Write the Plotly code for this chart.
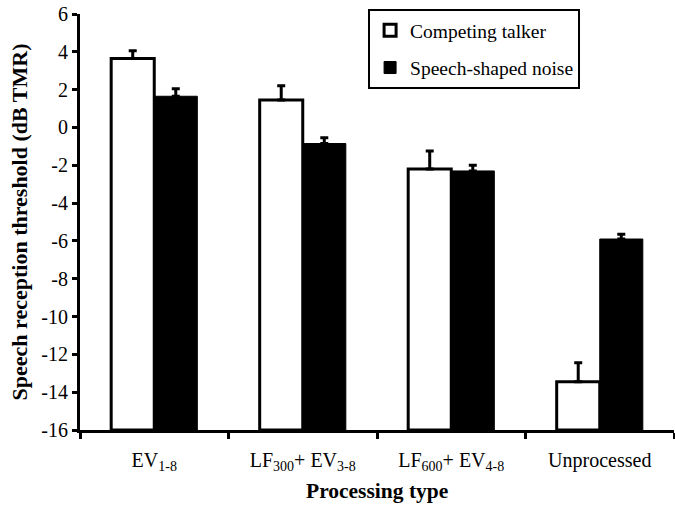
import plotly.graph_objects as go

categories = ["EV<sub>1-8</sub>", "LF<sub>300</sub>+ EV<sub>3-8</sub>",
              "LF<sub>600</sub>+ EV<sub>4-8</sub>", "Unprocessed"]
competing_talker = [3.65, 1.45, -2.2, -13.45]
competing_err = [0.4, 0.75, 0.95, 1.0]
speech_noise = [1.65, -0.85, -2.3, -5.9]
speech_noise_err = [0.4, 0.3, 0.3, 0.25]
y_ticks = list(range(-16, 7, 2))
base_val = -16

FONT = "Liberation Serif, Times New Roman, serif"

fig = go.Figure()
fig.add_trace(go.Bar(
    name="Competing talker", x=categories,
    y=[v - base_val for v in competing_talker], base=base_val,
    marker=dict(color="white", line=dict(color="black", width=3)),
    error_y=dict(type="data", array=competing_err, arrayminus=[0]*4, symmetric=False,
                 color="black", thickness=3, width=4),
    legendgroup="a",
))
fig.add_trace(go.Bar(
    name="Speech-shaped noise", x=categories,
    y=[v - base_val for v in speech_noise], base=base_val,
    marker=dict(color="black", line=dict(color="black", width=1)),
    error_y=dict(type="data", array=speech_noise_err, arrayminus=[0]*4, symmetric=False,
                 color="black", thickness=3, width=4),
    legendgroup="b",
))

fig.update_layout(
    width=675, height=510,
    margin=dict(l=80, r=1, t=9, b=80),
    plot_bgcolor="white", paper_bgcolor="white",
    barmode="group", bargap=0.42, bargroupgap=0,
    font=dict(family=FONT, color="black", size=19),
    showlegend=True,
    legend=dict(x=0.485, y=1.0, xanchor="left", yanchor="top",
                bordercolor="black", borderwidth=2, bgcolor="white",
                font=dict(family=FONT, size=19.5),
                traceorder="grouped", tracegroupgap=9),
    xaxis=dict(
        type="category", tickson="boundaries", automargin=False,
        showline=True, linecolor="black", linewidth=3,
        ticks="outside", ticklen=6, tickwidth=3, tickcolor="black",
        tickfont=dict(family=FONT, size=20), ticklabelstandoff=10,
        showgrid=False, zeroline=False,
    ),
    yaxis=dict(
        range=[-16, 6], tickvals=y_ticks, ticktext=[str(t) for t in y_ticks],
        domain=[0, 1 - 5 / 421], automargin=False, ticklabeloverflow="allow",
        showline=True, linecolor="black", linewidth=3,
        ticks="outside", ticklen=5, tickwidth=3, tickcolor="black",
        tickfont=dict(family=FONT, size=20),
        title=dict(text="<b>Speech reception threshold (dB TMR)</b>",
                   font=dict(family=FONT, size=22), standoff=8),
        showgrid=False, zeroline=False,
    ),
    annotations=[dict(
        text="<b>Processing type</b>", xref="paper", yref="paper",
        x=0.5, y=-(491 - 430) / 421, xanchor="center", yanchor="middle",
        showarrow=False, font=dict(family=FONT, size=21.5),
    )],
)

fig.write_html("out.html",
               config={"displayModeBar": False},
               post_script="document.body.style.margin='0';document.body.style.overflow='hidden';")
